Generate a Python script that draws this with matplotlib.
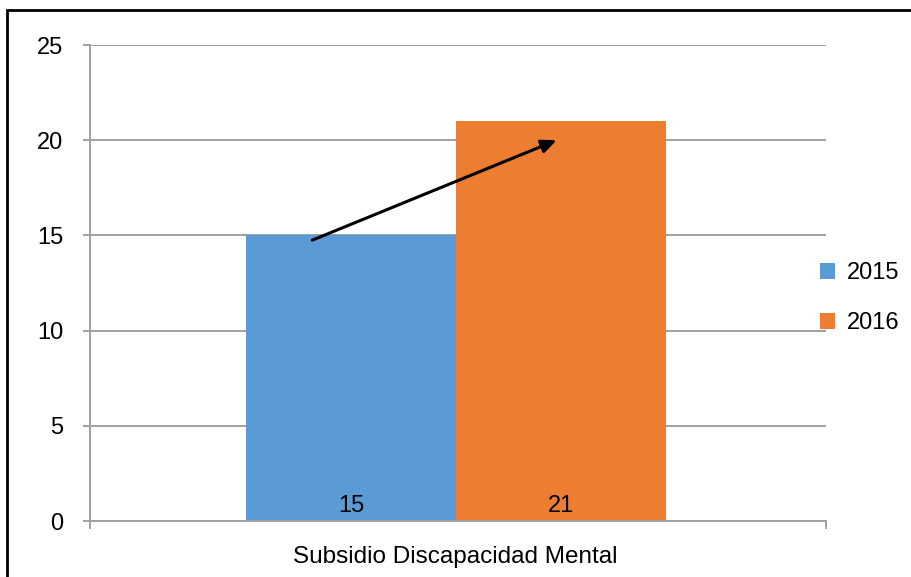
import matplotlib
matplotlib.use("Agg")
import matplotlib.pyplot as plt
from matplotlib.patches import Rectangle

category = "Subsidio Discapacidad Mental"
series = ["2015", "2016"]
values = [15, 21]
colors = ["#5B9BD5", "#ED7D31"]
yticks = [0, 5, 10, 15, 20, 25]

FONT = "Liberation Sans"

fig = plt.figure(figsize=(9.12, 5.77), dpi=100)
ax = fig.add_axes([90/912, 1-521/577, (826-90)/912, (521-45)/577])

bw = 0.2853
offsets = [-0.1454, 0.1406]
for s, v, c, o in zip(series, values, colors, offsets):
    ax.bar(o, v, width=bw, color=c, label=s, zorder=2)
    ax.text(o, 0.47, str(v), ha="center", va="baseline", fontsize=17,
            family=FONT, zorder=3)

ax.set_xlim(-0.5, 0.5)
ax.set_ylim(0, 25)
ax.set_yticks(yticks)
ax.set_yticklabels([str(t) for t in yticks], fontsize=17, family=FONT)
ax.grid(axis="y", color="#A0A0A0", linewidth=1.4, zorder=1)
ax.set_axisbelow(True)
for sp in ["top", "right"]:
    ax.spines[sp].set_visible(False)
for sp in ["left", "bottom"]:
    ax.spines[sp].set_color("#A0A0A0")
    ax.spines[sp].set_linewidth(1.4)
ax.tick_params(axis="y", length=5, width=1.4, color="#A0A0A0", pad=14)
ax.set_xticks([-0.004])
ax.set_xticklabels([category], fontsize=17.5, family=FONT)
ax.tick_params(axis="x", which="major", length=0, pad=18)
ax.set_xticks([-0.5, 0.5], minor=True)
ax.tick_params(axis="x", which="minor", length=6, width=1.4, color="#A0A0A0")

ax.annotate("", xy=(0.134, 20.0), xytext=(-0.198, 14.75),
            arrowprops=dict(arrowstyle="-|>,head_length=0.9,head_width=0.4",
                            color="black", lw=2.2, shrinkA=0, shrinkB=0),
            zorder=4)

leg = ax.legend(loc="center left", bbox_to_anchor=(0.992, 0.468), frameon=False,
                handlelength=0.64, handleheight=0.64,
                labelspacing=1.2, handletextpad=0.5,
                borderpad=0, borderaxespad=0,
                prop={"family": FONT, "size": 17})

fig.patches.append(Rectangle((7/912, -0.1), 1.2, 1.1 - 10/577,
                             transform=fig.transFigure, fill=False,
                             edgecolor="black", linewidth=2, zorder=10))

fig.savefig("out.png", dpi=100)
